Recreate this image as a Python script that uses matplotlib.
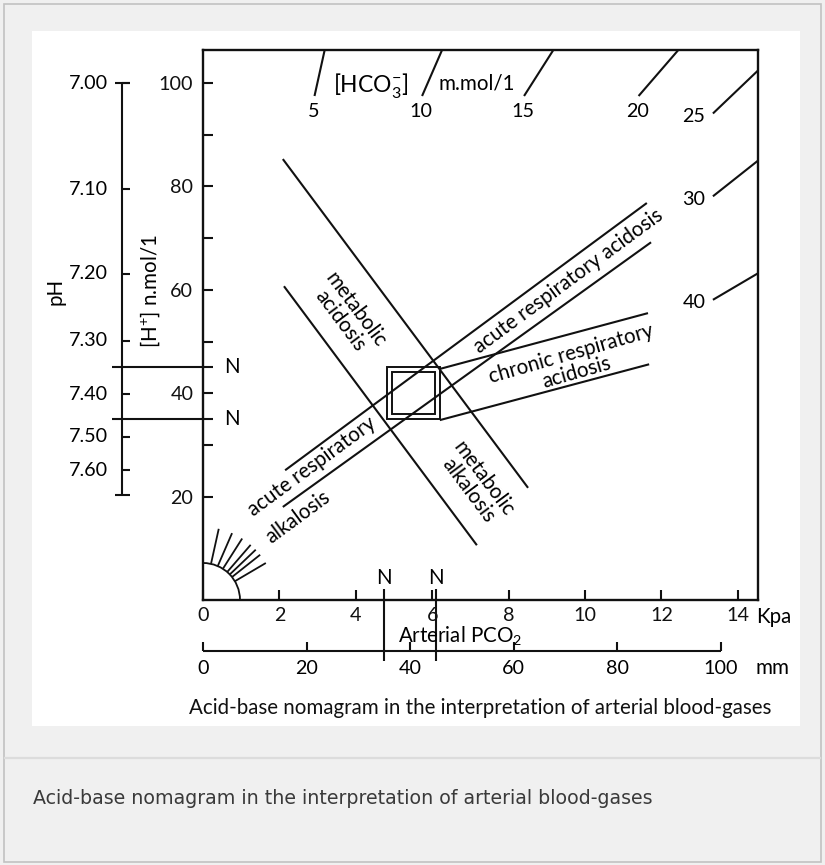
import numpy as np
import matplotlib
matplotlib.use('Agg')
import matplotlib.pyplot as plt
from matplotlib.patches import Rectangle, Arc
from matplotlib.lines import Line2D

plt.rcParams['font.family'] = ['Lato', 'DejaVu Sans']
plt.rcParams['mathtext.fontset'] = 'custom'
plt.rcParams['mathtext.rm'] = 'Lato'
plt.rcParams['mathtext.it'] = 'Lato:italic'
plt.rcParams['mathtext.bf'] = 'Lato:bold'

# scales
kpa_ticks = [0, 2, 4, 6, 8, 10, 12, 14]
mm_ticks = [0, 20, 40, 60, 80, 100]
mm_to_kpa = 0.1356            # as drawn on the lower scale
h_major = [20, 40, 60, 80, 100]
h_minor = [30, 50, 70, 90]
ph_ticks = [7.00, 7.10, 7.20, 7.30, 7.40, 7.50, 7.60]
ph_labels = ['7.00', '7.10', '7.20', '7.30', '7.40', '7.50', '7.60']
ph_bar_end = 20.3             # nmol/l where the pH bar stops

# normal ranges
normal_mm = [35, 45]
normal_h = [35, 45]

# bicarbonate isopleths (m.mol/l) and their slope in nmol/l per kPa
hco3 = [5, 10, 15, 20, 25, 30, 40]
hco3_slope = [33.4, 17.0, 11.6, 8.55, 7.05, 5.85, 4.35]

# band edges: ([kPa, kPa], [nmol/l, nmol/l])
met_upper = ([2.09, 8.51], [85.3, 21.7])
met_lower = ([2.12, 7.17], [60.7, 10.6])
acute_upper = ([2.15, 11.62], [25.1, 76.8])
acute_lower = ([2.09, 11.73], [18.0, 69.2])
chronic_upper = ([6.20, 11.65], [44.7, 55.5])
chronic_lower = ([6.20, 11.68], [34.8, 45.6])

W, H = 825, 865
fig = plt.figure(figsize=(W / 100, H / 100), dpi=100, facecolor='#f0f0f0')

# page furniture
fig.patches.append(Rectangle((4 / W, 3 / H), 817 / W, 858 / H, transform=fig.transFigure,
                             fill=False, edgecolor='#c2c2c2', lw=1.2, zorder=-6))
fig.patches.append(Rectangle((32 / W, 1 - 726 / H), 768 / W, 695 / H, transform=fig.transFigure,
                             facecolor='white', edgecolor='none', zorder=-5))
fig.lines.append(Line2D([5 / W, 820 / W], [1 - 758 / H] * 2, transform=fig.transFigure,
                        color='#dcdcdc', lw=1.6, zorder=-5))

ax = fig.add_axes([203 / W, 1 - 600 / H, 555 / W, 550 / H])
ax.patch.set_visible(False)
xmax, ymax = 14.53, 106.4
ax.set_xlim(0, xmax)
ax.set_ylim(0, ymax)
sx = 555 / xmax   # pixels per kPa
sy = 550 / ymax   # pixels per nmol/l

lw = 1.5
k = dict(color='#111111', lw=lw, solid_capstyle='butt')
fs = 14.8    # labels
ft = 14.2    # numbers
for s in ax.spines.values():
    s.set_linewidth(1.7)
    s.set_color('#111111')

ax.set_xticks(kpa_ticks)
ax.set_xticklabels([str(t) for t in kpa_ticks])
ax.set_yticks(h_major)
ax.set_yticklabels([str(t) for t in h_major])
ax.set_yticks(h_minor, minor=True)
ax.tick_params(which='both', direction='in', length=7, width=1.5, labelsize=ft,
               color='#111111', labelcolor='#111111')
ax.tick_params(axis='y', pad=7)
ax.tick_params(axis='x', pad=5)

# bicarbonate isopleths
for v, m in zip(hco3, hco3_slope):
    if m * xmax > ymax:
        p = [97.5 / m, ymax / m]
        off = (-1, -15)
    else:
        p = [13.35, xmax]
        off = (-19, -3)
    ax.plot(p, [m * p[0], m * p[1]], **k)
    ax.annotate(str(v), (p[0], m * p[0]), xytext=off, textcoords='offset pixels',
                ha='center', va='center', fontsize=ft)
    # small fan round the origin
    d = np.hypot(sx, m * sy)
    q = [38 / d, 72 / d]
    ax.plot(q, [m * q[0], m * q[1]], color='#111111', lw=1.3)
ax.add_patch(Arc((0, 0), 2 * 37 / sx, 2 * 37 / sy, theta1=0, theta2=90, color='#111111', lw=1.3))
ax.text(4.40, 99.6, r'[HCO$_3^{-}$]', ha='center', va='center', fontsize=16.5)
ax.text(7.17, 100.0, 'm.mol/1', ha='center', va='center', fontsize=fs)

# bands
for xs, ys in [met_upper, met_lower, acute_upper, acute_lower, chronic_upper, chronic_lower]:
    ax.plot(xs, ys, **k)

# normal box (double line)
bx0, bx1 = normal_mm[0] * mm_to_kpa + 0.07, normal_mm[1] * mm_to_kpa + 0.1
ax.add_patch(Rectangle((bx0, normal_h[0]), bx1 - bx0, normal_h[1] - normal_h[0],
                       fill=False, ec='#111111', lw=1.4))
ax.add_patch(Rectangle((bx0 + 5 / sx, normal_h[0] + 5 / sy), bx1 - bx0 - 10 / sx,
                       normal_h[1] - normal_h[0] - 10 / sy, fill=False, ec='#111111', lw=1.4))

tk = dict(ha='center', va='center', fontsize=fs, rotation_mode='anchor', linespacing=0.95)
ax.text(3.80, 55.1, 'metabolic\nacidosis', rotation=-53.3, **tk)
ax.text(7.15, 22.4, 'metabolic\nalkalosis', rotation=-53.3, **tk)
ax.text(9.58, 61.7, 'acute respiratory acidosis', rotation=36.3, **tk)
ax.text(2.85, 25.9, 'acute respiratory', rotation=36.3, **tk)
ax.text(2.49, 16.1, 'alkalosis', rotation=36.3, **tk)
ax.text(9.71, 45.8, 'chronic respiratory\nacidosis', rotation=16, **tk)

# left: N lines, pH bar, labels
for h in normal_h:
    ax.plot([-2.38, 0.26], [h, h], clip_on=False, **k)
    ax.text(0.76, h, 'N', ha='center', va='center', fontsize=fs)
ph_h = 10 ** (9 - np.array(ph_ticks))
xb = -2.12
ax.plot([xb, xb], [ph_h[0], ph_bar_end], clip_on=False, **k)
for h in [ph_h[0], ph_bar_end]:
    ax.plot([-2.30, -1.91], [h, h], clip_on=False, **k)
for h, lab in zip(ph_h, ph_labels):
    ax.plot([xb, -1.91], [h, h], clip_on=False, **k)
    ax.text(-2.49, h, lab, ha='right', va='center', fontsize=ft)
ax.text(-3.87, 59.6, 'pH', rotation=90, ha='center', va='center', fontsize=fs)
ax.text(-1.39, 59.8, r'[H$^{+}$] n.mol/1', rotation=90, ha='center', va='center', fontsize=fs)

# bottom: N lines, mm scale, labels
for v in normal_mm:
    x = v * mm_to_kpa
    ax.plot([x, x], [2.13, -11.8], clip_on=False, **k)
    ax.text(x, 4.3, 'N', ha='center', va='center', fontsize=fs)
ax.text(14.47, -3.3, 'Kpa', ha='left', va='center', fontsize=fs)
ym = -9.86
ax.plot([0, mm_ticks[-1] * mm_to_kpa], [ym, ym], clip_on=False, **k)
for v in mm_ticks:
    x = v * mm_to_kpa
    ax.plot([x, x], [ym, -8.1], clip_on=False, **k)
    ax.text(x, -13.2, str(v), ha='center', va='center', fontsize=ft)
ax.text(14.92, -13.2, 'mm', ha='center', va='center', fontsize=fs)
ax.text(6.73, -6.96, r'Arterial PCO$_2$', ha='center', va='center', fontsize=fs)

fig.text(480 / W, 1 - 708 / H, 'Acid-base nomagram in the interpretation of arterial blood-gases',
         ha='center', va='center', fontsize=fs, color='#111111')
fig.text(33 / W, 1 - 798 / H, 'Acid-base nomagram in the interpretation of arterial blood-gases',
         ha='left', va='center', fontsize=13.7, color='#3a3a3a', family='DejaVu Sans')

fig.savefig('out.png', dpi=100, facecolor=fig.get_facecolor())
